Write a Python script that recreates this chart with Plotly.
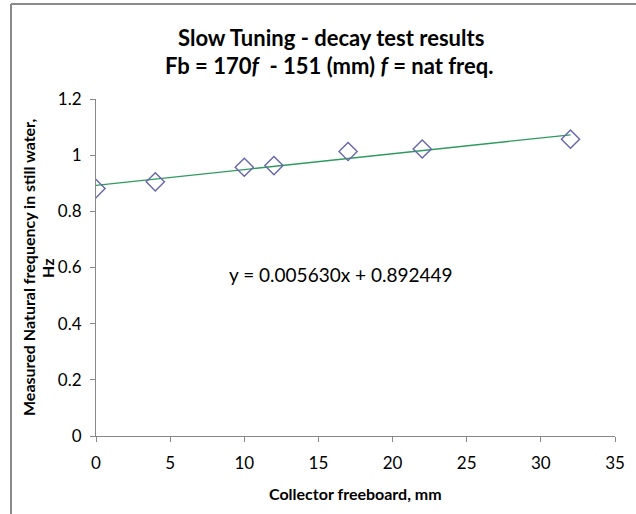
import plotly.graph_objects as go

freeboard_mm = [0, 4, 10, 12, 17, 22, 32]
nat_freq_hz = [0.881, 0.905, 0.957, 0.963, 1.013, 1.022, 1.057]
slope = 0.005630
intercept = 0.892449
trend_x = [0, 32]
trend_y = [slope * v + intercept for v in trend_x]

W, H = 636, 514
L, R, T, B = 96, 21, 99, 78
pw, ph = W - L - R, H - T - B

font = "Lato, 'Open Sans', sans-serif"

def px(xp):
    return (xp - L) / pw

def py(yp):
    return (H - B - yp) / ph

fig = go.Figure()
fig.add_trace(go.Scatter(x=trend_x, y=trend_y, mode="lines",
                         line=dict(color="#2e9a5e", width=1.3), hoverinfo="skip"))
fig.add_trace(go.Scatter(x=freeboard_mm, y=nat_freq_hz, mode="markers",
                         marker=dict(symbol="diamond-open", size=14,
                                     color="#6666aa", line=dict(width=1.4, color="#6666aa"))))

fig.update_layout(
    width=W, height=H, showlegend=False,
    margin=dict(l=L, r=R, t=T, b=B),
    paper_bgcolor="white", plot_bgcolor="white",
    font=dict(family=font, color="#000", size=12),
    annotations=[
        dict(text="<b>Slow Tuning - decay test results</b>", xref="paper", yref="paper",
             x=px(331), y=py(37), showarrow=False,
             font=dict(size=22, family=font), xanchor="center", yanchor="middle"),
        dict(text="<b>Fb = 170<i>f</i>  - 151 (mm) <i>f</i> = nat freq.</b>", xref="paper", yref="paper",
             x=px(329), y=py(65), showarrow=False,
             font=dict(size=22, family=font), xanchor="center", yanchor="middle"),
        dict(text="y = 0.005630x + 0.892449", xref="paper", yref="paper",
             x=px(341), y=py(274), showarrow=False,
             font=dict(size=19, family=font), xanchor="center", yanchor="middle"),
        dict(text="<b>Measured Natural frequency in still water,</b>", xref="paper", yref="paper",
             x=px(28), y=py(268), showarrow=False, textangle=-90,
             font=dict(size=16, family=font), xanchor="center", yanchor="middle"),
        dict(text="<b>Hz</b>", xref="paper", yref="paper",
             x=px(47), y=py(268), showarrow=False, textangle=-90,
             font=dict(size=16, family=font), xanchor="center", yanchor="middle"),
        dict(text="<b>Collector freeboard, mm</b>", xref="paper", yref="paper",
             x=px(355), y=py(493), showarrow=False,
             font=dict(size=16, family=font), xanchor="center", yanchor="middle"),
    ],
    shapes=[
        dict(type="line", xref="paper", yref="paper",
             x0=px(11), x1=px(W + 5), y0=py(4), y1=py(4),
             line=dict(color="#8a8a8a", width=2)),
        dict(type="line", xref="paper", yref="paper",
             x0=px(11), x1=px(11), y0=py(4), y1=py(H + 5),
             line=dict(color="#8a8a8a", width=2)),
    ],
)
fig.update_xaxes(range=[0, 35], dtick=5, tick0=0, showgrid=False, zeroline=False,
                 showline=True, linecolor="#888", linewidth=1,
                 ticks="outside", ticklen=5, tickcolor="#888", ticklabelstandoff=7,
                 tickfont=dict(size=17, family=font))
fig.update_yaxes(range=[0, 1.2], dtick=0.2, tick0=0, showgrid=False, zeroline=False,
                 showline=True, linecolor="#888", linewidth=1,
                 ticks="outside", ticklen=5, tickcolor="#888", ticklabelstandoff=5,
                 tickfont=dict(size=17, family=font))

fig.write_html("out.html")
